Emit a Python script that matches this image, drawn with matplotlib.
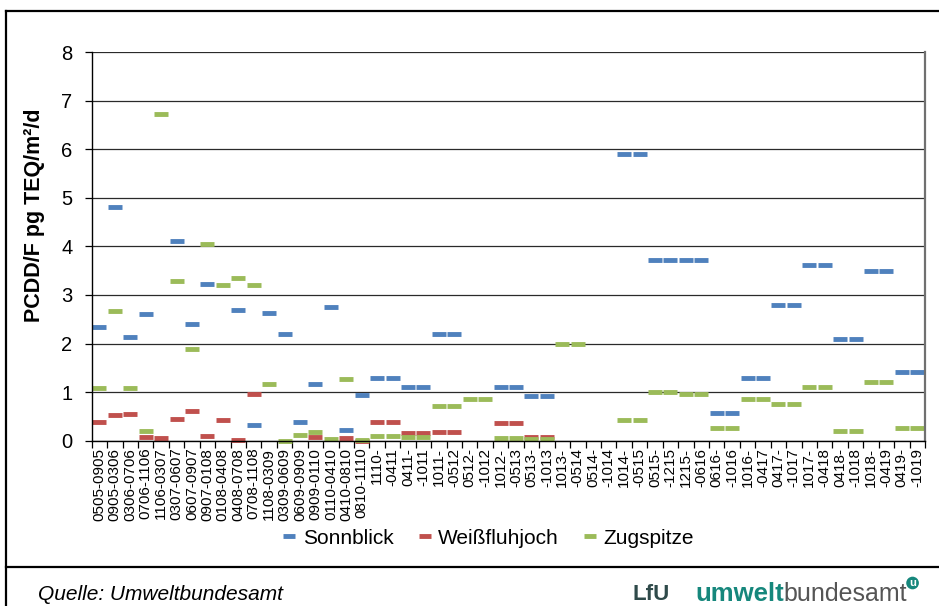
import numpy as np
import matplotlib
matplotlib.use("Agg")
import matplotlib.pyplot as plt
from matplotlib.lines import Line2D

plt.rcParams['font.family'] = ['Liberation Sans', 'DejaVu Sans']

nan = np.nan

categories = [
    "0505-0905", "0905-0306", "0306-0706", "0706-1106", "1106-0307", "0307-0607",
    "0607-0907", "0907-0108", "0108-0408", "0408-0708", "0708-1108", "1108-0309",
    "0309-0609", "0609-0909", "0909-0110", "0110-0410", "0410-0810", "0810-1110",
    "1110-", "-0411", "0411-", "-1011", "1011-", "-0512", "0512-", "-1012",
    "1012-", "-0513", "0513-", "-1013", "1013-", "-0514", "0514-", "-1014",
    "1014-", "-0515", "0515-", "-1215", "1215-", "-0616", "0616-", "-1016",
    "1016-", "-0417", "0417-", "-1017", "1017-", "-0418", "0418-", "-1018",
    "1018-", "-0419", "0419-", "-1019",
]

sonnblick = [
    2.34, 4.82, 2.13, 2.60, nan, 4.12, 2.40, 3.22, nan, 2.70, 0.32, 2.63,
    2.20, 0.38, 1.17, 2.75, 0.23, 0.95,
    1.30, 1.30, 1.10, 1.10, 2.20, 2.20, nan, nan, 1.10, 1.10, 0.91, 0.91,
    nan, nan, nan, nan, 5.91, 5.91, 3.71, 3.71, 3.71, 3.71, 0.58, 0.58,
    1.30, 1.30, 2.80, 2.80, 3.61, 3.61, 2.10, 2.10, 3.50, 3.50, 1.41, 1.41,
]

weissfluhjoch = [
    0.38, 0.52, 0.55, 0.07, 0.05, 0.45, 0.61, 0.10, 0.42, 0.01, 0.97, nan,
    nan, nan, 0.07, nan, 0.05, 0.00,
    0.38, 0.38, 0.15, 0.15, 0.17, 0.17, nan, nan, 0.37, 0.37, 0.08, 0.08,
    nan, nan, nan, nan, nan, nan, nan, nan, nan, nan, nan, nan,
    nan, nan, nan, nan, nan, nan, nan, nan, nan, nan, nan, nan,
]

zugspitze = [
    1.09, 2.67, 1.08, 0.19, 6.73, 3.28, 1.89, 4.04, 3.20, 3.34, 3.21, 1.16,
    0.00, 0.12, 0.18, 0.03, 1.28, 0.01,
    0.10, 0.10, 0.075, 0.075, 0.71, 0.71, 0.86, 0.86, 0.05, 0.05, 0.04, 0.04,
    2.00, 2.00, nan, nan, 0.43, 0.43, 1.00, 1.00, 0.96, 0.96, 0.27, 0.27,
    0.86, 0.86, 0.75, 0.75, 1.10, 1.10, 0.20, 0.20, 1.20, 1.20, 0.27, 0.27,
]

series = [
    ("Sonnblick", sonnblick, "#4F81BD"),
    ("Weißfluhjoch", weissfluhjoch, "#C0504D"),
    ("Zugspitze", zugspitze, "#9BBB59"),
]

W, H = 939, 606
fig = plt.figure(figsize=(W / 100, H / 100), dpi=100)


def fx(px):
    return px / W


def fy(py):
    return 1 - py / H


fig.add_artist(Line2D([fx(6), fx(6)], [fy(11), fy(606)], color='black', lw=1.6, transform=fig.transFigure))
fig.add_artist(Line2D([fx(6), fx(939)], [fy(11), fy(11)], color='black', lw=1.6, transform=fig.transFigure))
fig.add_artist(Line2D([fx(6), fx(939)], [fy(567), fy(567)], color='black', lw=1.6, transform=fig.transFigure))

ax = fig.add_axes([fx(91.7), fy(440.7), fx(925) - fx(91.7), fy(52) - fy(440.7)])

x = np.arange(len(categories))
for name, vals, col in series:
    ax.plot(x, vals, linestyle='none', marker='_', markersize=10.7, mew=3.5,
            color=col, label=name, clip_on=False)

ax.set_xlim(-0.5, len(categories) - 0.5)
ax.set_ylim(0, 8)
ax.set_yticks(range(0, 9))
ax.yaxis.grid(True, color='#2a2a2a', lw=0.9)
ax.set_axisbelow(True)

ax.set_xticks(x)
ax.set_xticklabels(categories, rotation=90, fontsize=11)
ax.tick_params(axis='x', which='major', length=0, pad=5)
ax.set_xticks(np.arange(-0.5, len(categories), 1), minor=True)
ax.tick_params(axis='x', which='minor', length=5, width=0.9, direction='out')
ax.tick_params(axis='y', length=5, width=0.9, direction='out', labelsize=14.5, pad=9)

for s in ['left', 'bottom']:
    ax.spines[s].set_linewidth(1.0)
    ax.spines[s].set_color('black')
ax.spines['top'].set_visible(False)
ax.spines['right'].set_color('#707070')
ax.spines['right'].set_linewidth(1.6)

fig.text(fx(35), fy(215), "PCDD/F pg TEQ/m²/d", fontsize=15.5, fontweight='bold',
         rotation=90, ha='center', va='center')

handles = [Line2D([], [], linestyle='none', marker='_', markersize=9, mew=3.5, color=c) for _, _, c in series]
fig.legend(handles, [n for n, _, _ in series], loc='center', bbox_to_anchor=(fx(488), fy(538)),
           ncol=3, frameon=False, fontsize=15, handlelength=0.7, handletextpad=0.3, columnspacing=1.15)

fig.text(fx(38), fy(594), "Quelle: Umweltbundesamt", fontsize=15, style='italic', va='center', ha='left')
fig.text(fx(632), fy(594), "LfU", fontsize=16, fontweight='bold', color='#2f4a4a', va='center', ha='left')
t1 = fig.text(fx(695), fy(594), "umwelt", fontsize=18.5, fontweight='bold', color='#16877c', va='center', ha='left')
fig.canvas.draw()
bb = t1.get_window_extent()
t2 = fig.text(bb.x1 / W, fy(594), "bundesamt", fontsize=18, color='#555555', va='center', ha='left')
fig.canvas.draw()
bb2 = t2.get_window_extent()
fig.text(bb2.x1 / W + 0.002, fy(583), "u", fontsize=8, fontweight='bold', color='white', va='center', ha='left',
         bbox=dict(boxstyle='circle,pad=0.12', fc='#16877c', ec='none'))

fig.savefig("out.png", dpi=100)
